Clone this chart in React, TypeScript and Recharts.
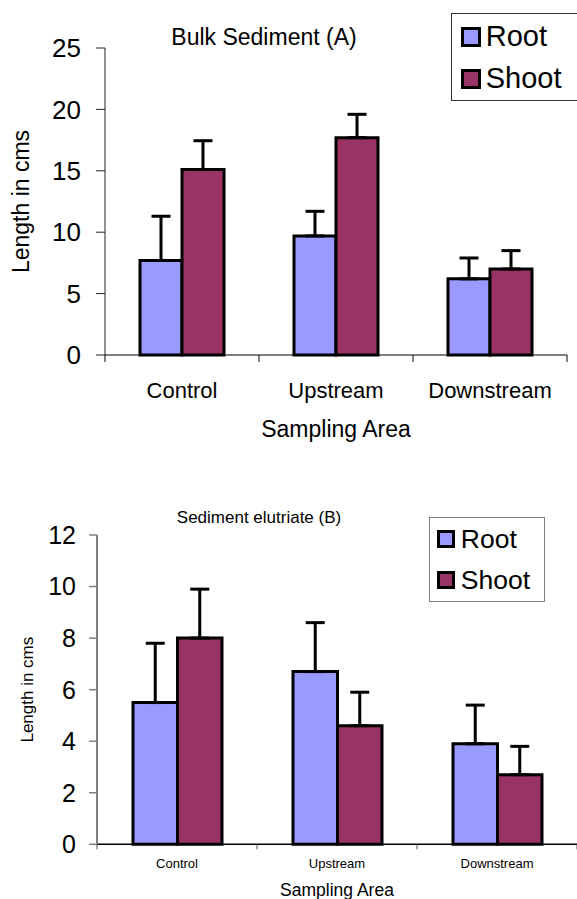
import React from 'react';
import { BarChart, Bar, XAxis, YAxis, ErrorBar, Legend } from 'recharts';

const categories = ['Control', 'Upstream', 'Downstream'];

// Bulk Sediment (A)
const bulkRoot = [7.7, 9.7, 6.2];
const bulkRootErr = [3.6, 2.0, 1.7];
const bulkShoot = [15.1, 17.7, 7.0];
const bulkShootErr = [2.35, 1.9, 1.5];
const bulkTicks = [0, 5, 10, 15, 20, 25];

// Sediment elutriate (B)
const elutRoot = [5.5, 6.7, 3.9];
const elutRootErr = [2.3, 1.9, 1.5];
const elutShoot = [8.0, 4.6, 2.7];
const elutShootErr = [1.9, 1.3, 1.1];
const elutTicks = [0, 2, 4, 6, 8, 10, 12];

const ROOT = '#9999FF';
const SHOOT = '#993366';
const FONT = '"Liberation Sans", Arial, Helvetica, sans-serif';

// error bars only go upward, so the low side is 0
const buildRows = (root: number[], rootErr: number[], shoot: number[], shootErr: number[]) =>
    categories.map((name, i) => ({
        name,
        root: root[i],
        rootErr: [0, rootErr[i]],
        shoot: shoot[i],
        shootErr: [0, shootErr[i]],
    }));

const bulkData = buildRows(bulkRoot, bulkRootErr, bulkShoot, bulkShootErr);
const elutData = buildRows(elutRoot, elutRootErr, elutShoot, elutShootErr);

// category label plus tick marks on the band edges (Excel style)
const makeCategoryTick = (fontSize: number, labelDy: number, tickLen: number, stroke: string) => (props: any) => {
    const { x, y, payload, index, width, visibleTicksCount } = props;
    const half = (width || 0) / (2 * (visibleTicksCount || 1));
    const last = index === visibleTicksCount - 1;
    return (
        <g>
            <line x1={x - half} x2={x - half} y1={y} y2={y + tickLen} stroke={stroke} strokeWidth={1} />
            {last && <line x1={x + half} x2={x + half} y1={y} y2={y + tickLen} stroke={stroke} strokeWidth={1} />}
            <text x={x} y={y + labelDy} textAnchor="middle" fontSize={fontSize} fill="#000" fontFamily={FONT}>
                {payload.value}
            </text>
        </g>
    );
};

interface LegendOpts {
    width: number;
    height: number;
    border: string;
    square: number;
    padLeft: number;
    rowTops: number[];
    fontSize: number;
    gap: number;
}

const makeLegend = (o: LegendOpts) => (props: any) => {
    const items = props.payload || [];
    return (
        <div
            style={{
                position: 'relative',
                boxSizing: 'border-box',
                width: o.width,
                height: o.height,
                border: o.border,
                background: '#fff',
                fontFamily: FONT,
            }}
        >
            {items.map((item: any, i: number) => (
                <div
                    key={item.value}
                    style={{
                        position: 'absolute',
                        left: o.padLeft,
                        top: o.rowTops[i],
                        height: o.square,
                        display: 'flex',
                        alignItems: 'center',
                        whiteSpace: 'nowrap',
                    }}
                >
                    <span
                        style={{
                            display: 'inline-block',
                            boxSizing: 'border-box',
                            width: o.square,
                            height: o.square,
                            border: '3px solid #000',
                            background: item.color,
                        }}
                    />
                    <span style={{ marginLeft: o.gap, fontSize: o.fontSize, lineHeight: 1, color: '#000' }}>
                        {item.value}
                    </span>
                </div>
            ))}
        </div>
    );
};

export default function App() {
    return (
        <div
            style={{
                position: 'absolute',
                left: 0,
                top: 0,
                width: 577,
                height: 899,
                overflow: 'hidden',
                background: '#fff',
                fontFamily: FONT,
            }}
        >
            {/* Chart A */}
            <div style={{ position: 'absolute', left: 0, top: 0, width: 577, height: 450, overflow: 'hidden' }}>
                <BarChart
                    width={577}
                    height={450}
                    data={bulkData}
                    margin={{ top: 48, right: 10, left: 0, bottom: 0 }}
                    barGap={0}
                    barSize={42}
                    style={{ fontFamily: FONT }}
                >
                    <XAxis
                        dataKey="name"
                        height={95}
                        axisLine={{ stroke: '#000', strokeWidth: 1 }}
                        tickLine={false}
                        tickSize={0}
                        tickMargin={0}
                        interval={0}
                        tick={makeCategoryTick(22, 43, 7, '#000')}
                        label={{ value: 'Sampling Area', position: 'insideBottom', offset: 13.5, fontSize: 23, fill: '#000' }}
                    />
                    <YAxis
                        width={105}
                        domain={[0, 25]}
                        ticks={bulkTicks}
                        interval={0}
                        axisLine={{ stroke: '#222', strokeWidth: 1 }}
                        tickLine={{ stroke: '#222', strokeWidth: 1 }}
                        tickSize={9}
                        tickMargin={15}
                        tick={{ fontSize: 26, fill: '#000' }}
                        label={{
                            value: 'Length in cms',
                            angle: -90,
                            position: 'insideLeft',
                            offset: 21,
                            fontSize: 23,
                            fill: '#000',
                            style: { textAnchor: 'middle' },
                        }}
                    />
                    <Legend
                        layout="vertical"
                        align="center"
                        verticalAlign="middle"
                        wrapperStyle={{ left: 451, top: 12.5, width: 140, height: 88 }}
                        content={makeLegend({
                            width: 140,
                            height: 88,
                            border: '1px solid #333',
                            square: 20,
                            padLeft: 8.7,
                            rowTops: [13, 55.3],
                            fontSize: 29,
                            gap: 5,
                        })}
                    />
                    <Bar dataKey="root" name="Root" fill={ROOT} stroke="#000" strokeWidth={3} isAnimationActive={false}>
                        <ErrorBar dataKey="rootErr" direction="y" width={9.5} stroke="#000" strokeWidth={3} isAnimationActive={false} />
                    </Bar>
                    <Bar dataKey="shoot" name="Shoot" fill={SHOOT} stroke="#000" strokeWidth={3} isAnimationActive={false}>
                        <ErrorBar dataKey="shootErr" direction="y" width={9.5} stroke="#000" strokeWidth={3} isAnimationActive={false} />
                    </Bar>
                </BarChart>
                <div
                    style={{
                        position: 'absolute',
                        left: 114,
                        top: 26,
                        width: 300,
                        textAlign: 'center',
                        fontSize: 23,
                        lineHeight: 1,
                        color: '#000',
                    }}
                >
                    Bulk Sediment (A)
                </div>
            </div>

            {/* Chart B */}
            <div style={{ position: 'absolute', left: 0, top: 450, width: 577, height: 449 }}>
                <BarChart
                    width={577}
                    height={449}
                    data={elutData}
                    margin={{ top: 85, right: 0, left: 0, bottom: 0 }}
                    barGap={0}
                    barSize={44.5}
                    style={{ fontFamily: FONT }}
                >
                    <XAxis
                        dataKey="name"
                        height={54.7}
                        axisLine={{ stroke: '#000', strokeWidth: 1.5 }}
                        tickLine={false}
                        tickSize={0}
                        tickMargin={0}
                        interval={0}
                        tick={makeCategoryTick(13, 23.4, 5, '#555')}
                        label={{ value: 'Sampling Area', position: 'insideBottom', offset: 3, fontSize: 17.5, fill: '#000' }}
                    />
                    <YAxis
                        width={97}
                        domain={[0, 12]}
                        ticks={elutTicks}
                        interval={0}
                        axisLine={{ stroke: '#808080', strokeWidth: 2 }}
                        tickLine={{ stroke: '#808080', strokeWidth: 1.5 }}
                        tickSize={8}
                        tickMargin={13}
                        tick={{ fontSize: 25, fill: '#000' }}
                        label={{
                            value: 'Length in cms',
                            angle: -90,
                            position: 'insideLeft',
                            offset: 27,
                            fontSize: 17,
                            fill: '#000',
                            style: { textAnchor: 'middle' },
                        }}
                    />
                    <Legend
                        layout="vertical"
                        align="center"
                        verticalAlign="middle"
                        wrapperStyle={{ left: 429, top: 67.3, width: 'auto', height: 'auto' }}
                        content={makeLegend({
                            width: 116,
                            height: 84.4,
                            border: '1.5px solid #808080',
                            square: 18,
                            padLeft: 6.8,
                            rowTops: [12, 53],
                            fontSize: 26.5,
                            gap: 6,
                        })}
                    />
                    <Bar dataKey="root" name="Root" fill={ROOT} stroke="#000" strokeWidth={3} isAnimationActive={false}>
                        <ErrorBar dataKey="rootErr" direction="y" width={9.5} stroke="#000" strokeWidth={3} isAnimationActive={false} />
                    </Bar>
                    <Bar dataKey="shoot" name="Shoot" fill={SHOOT} stroke="#000" strokeWidth={3} isAnimationActive={false}>
                        <ErrorBar dataKey="shootErr" direction="y" width={9.5} stroke="#000" strokeWidth={3} isAnimationActive={false} />
                    </Bar>
                </BarChart>
                <div
                    style={{
                        position: 'absolute',
                        left: 109,
                        top: 59.4,
                        width: 300,
                        textAlign: 'center',
                        fontSize: 17,
                        lineHeight: 1,
                        color: '#000',
                    }}
                >
                    Sediment elutriate (B)
                </div>
            </div>
        </div>
    );
}
